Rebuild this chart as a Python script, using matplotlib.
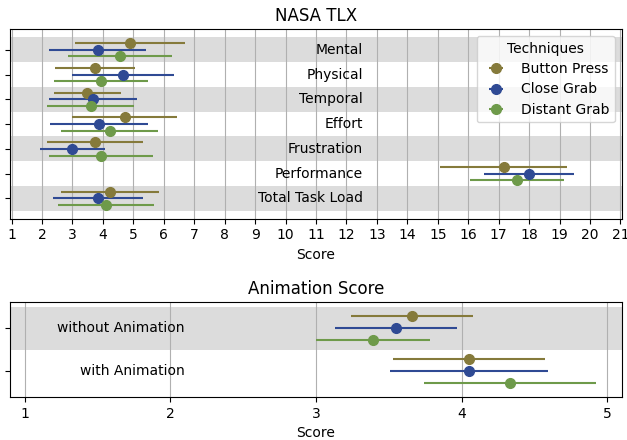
import matplotlib.pyplot as plt
import numpy as np

techniques = ["Button Press", "Close Grab", "Distant Grab"]
colors = ["#857a3b", "#2f4a94", "#6e9a4a"]

tlx_categories = ["Mental", "Physical", "Temporal", "Effort", "Frustration", "Performance", "Total Task Load"]
# means per technique, one value per category
tlx_means = {
    "Button Press": [4.89, 3.73, 3.49, 4.72, 3.73, 17.16, 4.23],
    "Close Grab":   [3.83, 4.67, 3.68, 3.88, 3.00, 18.01, 3.84],
    "Distant Grab": [4.56, 3.94, 3.60, 4.22, 3.94, 17.61, 4.11],
}
# half width of the error bars
tlx_err = {
    "Button Press": [1.80, 1.31, 1.10, 1.73, 1.58, 2.08, 1.60],
    "Close Grab":   [1.60, 1.67, 1.44, 1.61, 1.08, 1.48, 1.49],
    "Distant Grab": [1.70, 1.54, 1.42, 1.60, 1.70, 1.54, 1.58],
}

anim_categories = ["without Animation", "with Animation"]
anim_means = {
    "Button Press": [3.66, 4.05],
    "Close Grab":   [3.55, 4.05],
    "Distant Grab": [3.39, 4.33],
}
anim_err = {
    "Button Press": [0.42, 0.52],
    "Close Grab":   [0.42, 0.54],
    "Distant Grab": [0.39, 0.59],
}

offsets = [-0.27, 0.0, 0.27]

fig = plt.figure(figsize=(6.27, 4.4), dpi=100)
ax1 = fig.add_axes([0.016, 0.503, 0.976, 0.43])
ax2 = fig.add_axes([0.016, 0.098, 0.976, 0.215])


def draw(ax, cats, means, errs, label_x):
    y = np.arange(len(cats))
    for i in range(0, len(cats), 2):
        ax.axhspan(i - 0.5, i + 0.5, color="#dcdcdc", zorder=0, lw=0)
    for k, t in enumerate(techniques):
        ax.errorbar(means[t], y + offsets[k], xerr=errs[t], fmt="o", color=colors[k],
                    ms=7, elinewidth=1.5, capsize=0, label=t, zorder=3)
    for i, c in enumerate(cats):
        ax.text(label_x, i, c, ha="right", va="center", fontsize=10, zorder=4)
    ax.set_yticks(y)
    ax.set_yticklabels([])
    ax.set_ylim(len(cats) - 1 + 0.6, -0.6)
    ax.grid(axis="x", color="#b0b0b0", lw=0.8)
    ax.set_axisbelow(True)
    ax.set_xlabel("Score", fontsize=10)


draw(ax1, tlx_categories, tlx_means, tlx_err, 12.55)
ax1.set_ylim(6.82, -0.82)
ax1.set_xlim(0.95, 21.05)
ax1.set_xticks(range(1, 22))
ax1.set_title("NASA TLX", fontsize=12)
leg = ax1.legend(title="Techniques", loc="upper right", fontsize=10, title_fontsize=10,
                 handletextpad=0.8, borderpad=0.4, labelspacing=0.45)

draw(ax2, anim_categories, anim_means, anim_err, 2.1)
ax2.set_xlim(0.9, 5.1)
ax2.set_xticks(range(1, 6))
ax2.set_title("Animation Score", fontsize=12)

fig.savefig("out.png", dpi=100)
